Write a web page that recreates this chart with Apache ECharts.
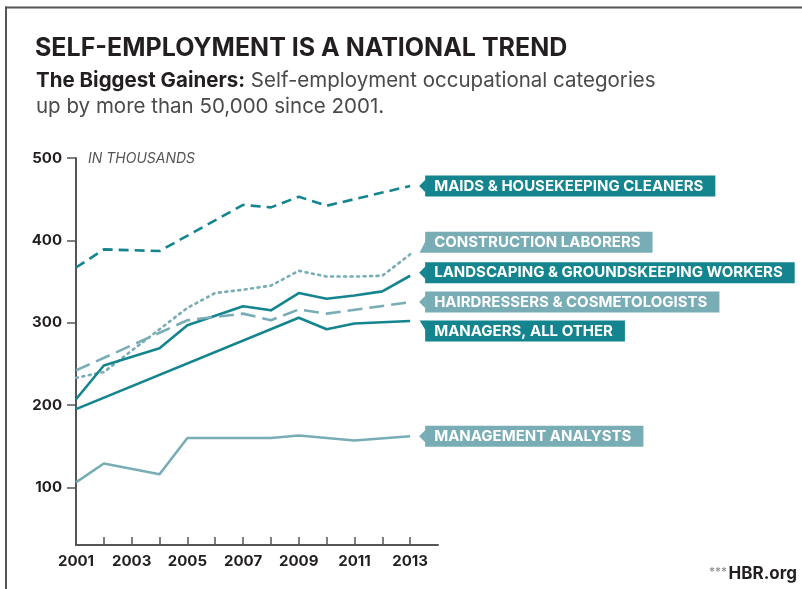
<!DOCTYPE html>
<html>
<head>
<meta charset="utf-8">
<title>Self-Employment Is a National Trend</title>
<script src="https://cdn.jsdelivr.net/npm/echarts@6/dist/echarts.min.js"></script>
<style>
  html, body { margin: 0; padding: 0; background: #ffffff; }
  #chart { width: 802px; height: 589px; }
</style>
</head>
<body>
<div id="chart"></div>
<script>
// Self-employed workers by occupation, in thousands (bend points of each line)
const seriesNames = [
  'MAIDS & HOUSEKEEPING CLEANERS',
  'CONSTRUCTION LABORERS',
  'LANDSCAPING & GROUNDSKEEPING WORKERS',
  'HAIRDRESSERS & COSMETOLOGISTS',
  'MANAGERS, ALL OTHER',
  'MANAGEMENT ANALYSTS'
];

const maidsYears = [2001, 2002, 2004, 2007, 2008, 2009, 2010, 2011, 2012, 2013];
const maidsValues = [367, 389, 387, 443, 440, 453, 442, 450, 458, 466];

const constructionYears = [2001, 2002, 2005, 2006, 2007, 2008, 2009, 2010, 2011, 2012, 2013];
const constructionValues = [233, 240, 318, 336, 340, 345, 363, 356, 356, 357, 383];

const landscapingYears = [2001, 2002, 2004, 2005, 2007, 2008, 2009, 2010, 2011, 2012, 2013];
const landscapingValues = [207, 248, 269, 297, 320, 315, 336, 329, 333, 338, 357];

const hairdressersYears = [2001, 2005, 2007, 2008, 2009, 2010, 2013];
const hairdressersValues = [242, 303, 311, 303, 316, 311, 325];

const managersYears = [2001, 2009, 2010, 2011, 2013];
const managersValues = [195, 306, 292, 299, 302];

const analystsYears = [2001, 2002, 2004, 2005, 2008, 2009, 2011, 2013];
const analystsValues = [106, 129, 116, 160, 160, 163, 157, 162];

// Axis ticks and labels
const yTickValues = [100, 200, 300, 400, 500];
const xTickValues = [2001, 2002, 2003, 2004, 2005, 2006, 2007, 2008, 2009, 2010, 2011, 2012, 2013];
const xLabelValues = [2001, 2003, 2005, 2007, 2009, 2011, 2013];

// ---- styling ----
const DARK = '#14858e';
const LIGHT = '#79adb6';
const FONT = 'Inter, Lato, sans-serif';

const lineStyles = [
  { color: DARK,  type: [10, 6] },
  { color: LIGHT, type: [2, 4.5], cap: 'round' },
  { color: DARK,  type: 'solid' },
  { color: LIGHT, type: [15, 7] },
  { color: DARK,  type: 'solid' },
  { color: LIGHT, type: 'solid' }
];

// Where each name flag sits relative to its line's last point
const flagLayout = [
  { dy: 0,   pointer: 'left' },
  { dy: -12, pointer: 'down' },
  { dy: -3,  pointer: 'left' },
  { dy: 0,   pointer: 'left' },
  { dy: 10,  pointer: 'up' },
  { dy: 0,   pointer: 'left' }
];

const allYears = [maidsYears, constructionYears, landscapingYears, hairdressersYears, managersYears, analystsYears];
const allValues = [maidsValues, constructionValues, landscapingValues, hairdressersValues, managersValues, analystsValues];

const zip = (xs, ys) => xs.map((x, i) => [x, ys[i]]);

const lineSeries = seriesNames.map((name, i) => ({
  name: name,
  type: 'line',
  data: zip(allYears[i], allValues[i]),
  symbol: 'none',
  silent: true,
  z: 3,
  lineStyle: {
    color: lineStyles[i].color,
    width: 2.6,
    type: lineStyles[i].type,
    cap: lineStyles[i].cap || 'butt',
    join: 'round'
  }
}));

const flagData = seriesNames.map((name, i) => {
  const ys = allYears[i], vs = allValues[i];
  return [ys[ys.length - 1], vs[vs.length - 1], i];
});

const flagSeries = {
  type: 'custom',
  coordinateSystem: 'cartesian2d',
  silent: true,
  z: 5,
  data: flagData,
  renderItem: function (params, api) {
    const i = api.value(2);
    const p = api.coord([api.value(0), api.value(1)]);
    const lay = flagLayout[i];
    const color = lineStyles[i].color;
    const L = p[0] + 15;
    const cy = p[1] + lay.dy;
    const H = 21;
    const T = cy - H / 2, B = cy + H / 2;
    let pts;
    if (lay.pointer === 'left') {
      pts = [[L - 6, cy], [L + 0.5, cy - 6.5], [L + 0.5, cy + 6.5]];
    } else if (lay.pointer === 'down') {
      pts = [[L + 0.5, cy - 1.5], [L + 0.5, B], [L - 5.5, B]];
    } else {
      pts = [[L - 5.5, T], [L + 0.5, T], [L + 0.5, T + 10]];
    }
    return {
      type: 'group',
      children: [
        { type: 'polygon', shape: { points: pts }, style: { fill: color } },
        {
          type: 'text',
          x: L,
          y: cy,
          style: {
            text: seriesNames[i],
            fill: '#ffffff',
            font: 'bold 15px ' + FONT,
            backgroundColor: color,
            padding: [0, 12, 0, 9],
            lineHeight: H,
            align: 'left',
            verticalAlign: 'middle'
          }
        }
      ]
    };
  }
};

const chart = echarts.init(document.getElementById('chart'), null, { renderer: 'canvas' });

chart.setOption({
  backgroundColor: '#ffffff',
  animation: false,
  grid: { left: 76, right: 364, top: 158, bottom: 44, outerBoundsMode: 'none' },
  xAxis: {
    type: 'value',
    min: 2001,
    max: 2014,
    interval: 1,
    splitLine: { show: false },
    axisLine: { show: true, lineStyle: { color: '#555555', width: 2 } },
    axisTick: { show: true, inside: true, length: 8, customValues: xTickValues, lineStyle: { color: '#555555', width: 1.5 } },
    axisLabel: {
      customValues: xLabelValues,
      formatter: v => String(v),
      color: '#231f20',
      fontFamily: FONT,
      fontWeight: 'bold',
      fontSize: 15,
      margin: 9
    }
  },
  yAxis: {
    type: 'value',
    min: 30,
    max: 500,
    splitLine: { show: false },
    axisLine: { show: true, lineStyle: { color: '#555555', width: 2 } },
    axisTick: { show: true, inside: false, length: 9, customValues: yTickValues, lineStyle: { color: '#555555', width: 1.5 } },
    axisLabel: {
      customValues: yTickValues,
      color: '#231f20',
      fontFamily: FONT,
      fontWeight: 'bold',
      fontSize: 15,
      margin: 14
    }
  },
  graphic: [
    // frame
    { type: 'line', shape: { x1: 5, y1: 7.5, x2: 802, y2: 7.5 }, style: { stroke: '#555555', lineWidth: 2 } },
    { type: 'line', shape: { x1: 6, y1: 6.5, x2: 6, y2: 589 }, style: { stroke: '#555555', lineWidth: 2 } },
    {
      type: 'text', x: 35, y: 48,
      style: {
        text: 'SELF-EMPLOYMENT IS A NATIONAL TREND',
        font: 'bold 25px ' + FONT,
        fill: '#231f20',
        verticalAlign: 'middle'
      }
    },
    {
      type: 'text', x: 36, y: 68,
      style: {
        text: '{b|The Biggest Gainers:} Self-employment occupational categories\nup by more than 50,000 since 2001.',
        font: '20.5px ' + FONT,
        fill: '#4a4a4a',
        lineHeight: 26,
        verticalAlign: 'top',
        rich: {
          b: { font: 'bold 20.5px ' + FONT, fill: '#231f20', lineHeight: 26 }
        }
      }
    },
    {
      type: 'text', x: 88, y: 159,
      style: {
        text: 'IN THOUSANDS',
        font: 'italic 14px ' + FONT,
        fill: '#555555',
        verticalAlign: 'middle'
      }
    },
    {
      type: 'text', x: 797, y: 574,
      style: {
        text: 'HBR.org',
        font: 'bold 17px ' + FONT,
        fill: '#231f20',
        align: 'right',
        verticalAlign: 'middle'
      }
    },
    {
      type: 'text', x: 709, y: 572,
      style: {
        text: '***',
        font: '12px ' + FONT,
        fill: '#888888',
        align: 'left',
        verticalAlign: 'middle'
      }
    }
  ],
  series: lineSeries.concat([flagSeries])
});
</script>
</body>
</html>
